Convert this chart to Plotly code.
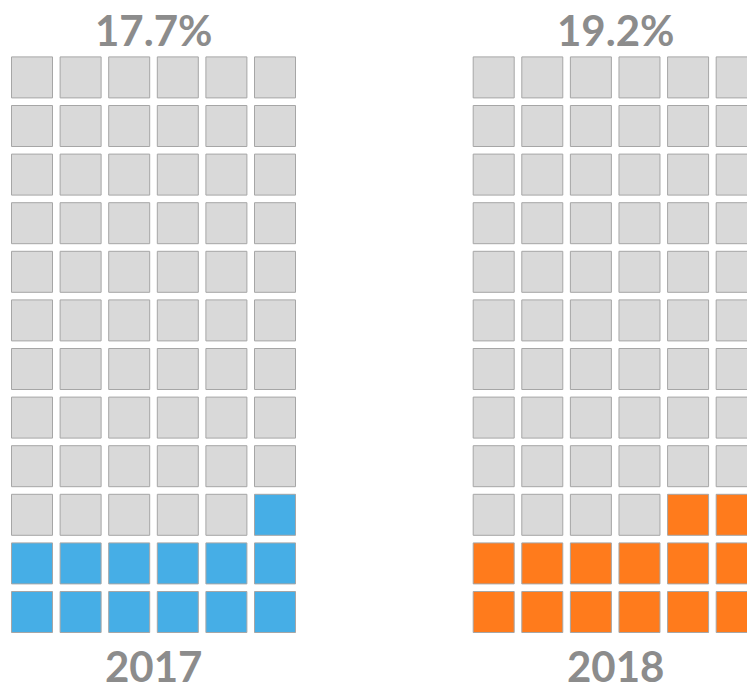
import plotly.graph_objects as go

# Data
years = ["2017", "2018"]
percent_labels = ["17.7%", "19.2%"]
filled_counts = [13, 14]
n_cols = 6
n_rows = 12
fill_colors = ["#46AEE6", "#FF7B1C"]
empty_color = "#D9D9D9"
border_color = "#A6A6A6"
text_color = "#8C8C8C"

# column offsets for each waffle (in grid units)
grid_offsets = [0, 9.5]

fig = go.Figure()
for g, (yr, lab, nf, col) in enumerate(zip(years, percent_labels, filled_counts, fill_colors)):
    xs, ys, cs = [], [], []
    total = n_cols * n_rows
    for i in range(total):
        r = i // n_cols
        c = (n_cols - 1) - (i % n_cols)
        xs.append(grid_offsets[g] + c)
        ys.append(r)
        cs.append(col if i < nf else empty_color)
    fig.add_trace(go.Scatter(
        x=xs, y=ys, mode="markers",
        marker=dict(symbol="square", size=41, color=cs,
                    line=dict(color=border_color, width=1)),
        hoverinfo="skip", showlegend=False, cliponaxis=True,
    ))
    cx = grid_offsets[g] + (n_cols - 1) / 2
    fig.add_annotation(x=cx, y=11.97, text=lab, showarrow=False,
                       xanchor="center", yanchor="middle", borderpad=0,
                       font=dict(family="Lato", size=42, color=text_color, weight="bold"))
    fig.add_annotation(x=cx, y=-1.12, text=yr, showarrow=False,
                       xanchor="center", yanchor="middle", borderpad=0,
                       font=dict(family="Lato", size=42, color=text_color, weight="bold"))

fig.update_layout(
    width=747, height=677,
    margin=dict(l=0, r=0, t=0, b=0),
    paper_bgcolor="white", plot_bgcolor="white",
    xaxis=dict(range=[-0.494, 14.877], visible=False, fixedrange=True),
    yaxis=dict(range=[-1.502, 12.428], visible=False, fixedrange=True),
)

fig.write_html("out.html")
